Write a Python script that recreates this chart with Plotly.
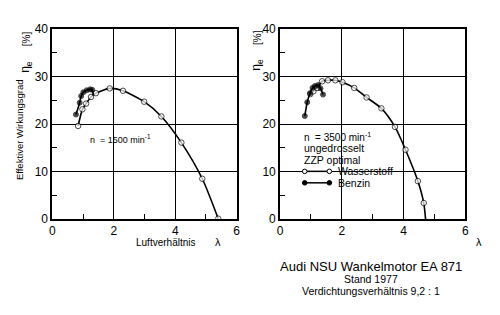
import plotly.graph_objects as go

# ---- data ----
h2_1500_lambda = [0.84, 0.98, 1.10, 1.26, 1.42, 1.87, 2.30, 2.99, 3.55, 4.20, 4.88, 5.40]
h2_1500_eta    = [19.6, 23.1, 24.3, 25.7, 26.5, 27.5, 27.0, 24.7, 21.6, 16.1, 8.5, 0.1]
bz_1500_lambda = [0.77, 0.89, 0.94, 1.01, 1.12, 1.23, 1.30, 1.33]
bz_1500_eta    = [22.0, 24.5, 25.9, 26.7, 27.1, 27.3, 27.2, 26.0]

h2_3500_lambda = [0.98, 1.08, 1.20, 1.36, 1.55, 1.79, 2.02, 2.40, 2.80, 3.28, 3.72, 4.06, 4.46, 4.65, 4.71]
h2_3500_eta    = [26.3, 26.9, 27.6, 29.0, 29.2, 29.2, 28.8, 27.6, 25.6, 23.3, 19.4, 14.6, 8.0, 3.4, 0.0]
bz_3500_lambda = [0.80, 0.88, 0.97, 1.05, 1.13, 1.23, 1.31, 1.39]
bz_3500_eta    = [21.7, 24.6, 26.5, 27.6, 28.0, 28.2, 27.5, 26.2]

x_ticks = [0, 2, 4, 6]
y_ticks = [0, 10, 20, 30, 40]
x_minor = [1, 3, 5]
y_minor = [5, 15, 25, 35]

FONT = "Liberation Sans"
fig = go.Figure()

def add_series(xs, ys, filled, xa, ya, last_marker=True):
    sizes = [5 if filled else 5.5] * len(xs)
    if not last_marker:
        sizes[-1] = 0
    fig.add_trace(go.Scatter(
        x=xs, y=ys, mode="lines+markers", xaxis=xa, yaxis=ya,
        line=dict(color="black", width=1.6, shape="spline", smoothing=0.7),
        marker=dict(size=sizes, color="black" if filled else "white",
                    line=dict(color="black", width=1)),
        showlegend=False, hoverinfo="skip"))

add_series(h2_1500_lambda, h2_1500_eta, False, "x", "y")
add_series(bz_1500_lambda, bz_1500_eta, True, "x", "y", last_marker=False)
add_series(h2_3500_lambda, h2_3500_eta, False, "x2", "y2", last_marker=False)
add_series(bz_3500_lambda, bz_3500_eta, True, "x2", "y2")

ydom = [(315 - 222) / 315, (315 - 23) / 315]
axis_common = dict(showline=True, mirror=True, linecolor="black", linewidth=1.8,
                   showgrid=True, gridcolor="black", gridwidth=1, zeroline=False,
                   ticks="", tickfont=dict(family=FONT, size=12, color="black"))
xcommon = dict(axis_common, range=[0, 6], tickvals=x_ticks,
               minor=dict(tickvals=x_minor, ticks="inside", ticklen=5,
                          tickcolor="black", tickwidth=1, showgrid=False))
ycommon = dict(axis_common, range=[0, 40], tickvals=y_ticks,
               minor=dict(tickvals=y_minor, ticks="inside", ticklen=5,
                          tickcolor="black", tickwidth=1, showgrid=False))

fig.update_layout(
    width=500, height=315, margin=dict(l=0, r=0, t=0, b=0),
    paper_bgcolor="white", plot_bgcolor="white",
    xaxis=dict(xcommon, domain=[50 / 500, 237 / 500], anchor="y"),
    yaxis=dict(ycommon, domain=ydom, anchor="x"),
    xaxis2=dict(xcommon, domain=[281 / 500, 469 / 500], anchor="y2"),
    yaxis2=dict(ycommon, domain=ydom, anchor="x2"),
)

def px(xp):
    return xp / 500
def py(yp):
    return 1 - yp / 315

def ann(text, x, y, size=10, angle=0, xanchor="center"):
    fig.add_annotation(text=text, x=px(x), y=py(y), xref="paper", yref="paper",
                       showarrow=False, textangle=angle, xanchor=xanchor,
                       yanchor="middle", borderpad=0,
                       font=dict(family=FONT, size=size, color="black"))

# left axis titles
ann("Effektiver Wirkungsgrad", 17, 128, size=9.5, angle=-90)
ann("η<sub>e</sub>", 24, 63, size=12, angle=-90)
ann("[%]", 24, 33, size=10, angle=-90)
ann("Luftverhältnis", 165, 246, size=10)
ann("λ", 218, 246, size=11)
# right axis titles
ann("η<sub>e</sub>", 258, 60, size=12, angle=-90)
ann("[%]", 258, 32, size=10, angle=-90)
ann("λ", 483, 246, size=11)

# in-plot annotations
ann("n  = 1500 min<sup>-1</sup>", 87, 138, size=9, xanchor="left")
ann("n  = 3500 min<sup>-1</sup>", 304, 136, size=10, xanchor="left")
ann("ungedrosselt", 304, 148, size=10.5, xanchor="left")
ann("ZZP optimal", 304, 160, size=10.5, xanchor="left")
ann("Wasserstoff", 339, 172, size=10.5, xanchor="left")
ann("Benzin", 339, 184, size=10.5, xanchor="left")

# legend keys
for yk, filled in [(172, False), (184, True)]:
    fig.add_shape(type="line", xref="paper", yref="paper", x0=px(306), x1=px(331),
                  y0=py(yk), y1=py(yk), line=dict(color="black", width=1.5))
    for xk in (306, 331):
        fig.add_shape(type="circle", xref="paper", yref="paper", xsizemode="pixel",
                      ysizemode="pixel", xanchor=px(xk), yanchor=py(yk),
                      x0=-2.3, x1=2.3, y0=-2.3, y1=2.3,
                      fillcolor="black" if filled else "white",
                      line=dict(color="black", width=1))

# caption
ann("Audi NSU Wankelmotor EA 871", 373, 272, size=13)
ann("Stand 1977", 373, 285, size=10.5)
ann("Verdichtungsverhältnis 9,2 : 1", 373, 297, size=10.5)

fig.write_html("out.html")
